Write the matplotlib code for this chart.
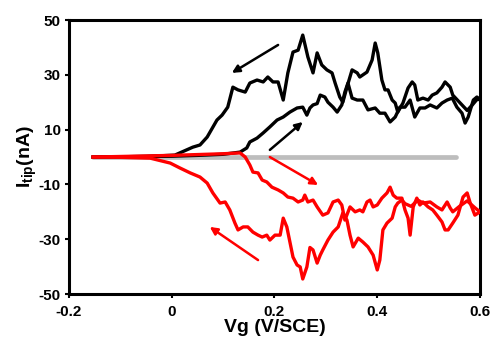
import matplotlib
matplotlib.use("Agg")
import matplotlib.pyplot as plt

plt.rcParams['font.family'] = ['Liberation Sans', 'DejaVu Sans']
plt.rcParams['mathtext.fontset'] = 'custom'
plt.rcParams['mathtext.rm'] = 'Liberation Sans:bold'
plt.rcParams['mathtext.bf'] = 'Liberation Sans:bold'
plt.rcParams['mathtext.it'] = 'Liberation Sans:bold'
plt.rcParams['axes.unicode_minus'] = False

# Black forward sweep (x increasing)
bf_x = [-0.153, -0.10, -0.05, 0.0, 0.05, 0.10, 0.133, 0.146, 0.152, 0.166, 0.178, 0.191, 0.205, 0.217, 0.230, 0.244,
        0.255, 0.263, 0.269, 0.275, 0.283, 0.289, 0.298, 0.304, 0.314, 0.322, 0.331, 0.337, 0.343, 0.351, 0.361, 0.372,
        0.382, 0.396, 0.405, 0.415, 0.425, 0.435, 0.444, 0.454, 0.464, 0.473, 0.483, 0.493, 0.503, 0.516, 0.526, 0.536,
        0.546, 0.555, 0.565, 0.571, 0.577, 0.587, 0.594, 0.600]
bf_y = [0, 0.1, 0.2, 0.3, 0.6, 1.0, 1.8, 3.3, 5.5, 6.9, 8.8, 11, 13.5, 14.6, 16.4, 17.9,
        18.2, 15.3, 17.9, 19, 19.5, 22.6, 21.9, 20, 18.2, 16.4, 19, 23.7, 27, 21.5, 20.8, 20.8,
        17.2, 17.9, 16, 16, 12.8, 14.6, 18.2, 18.2, 20.8, 14.6, 17.9, 17.9, 19, 17.9, 19.7, 20.8,
        21.5, 18.2, 16, 12.4, 14.6, 20.8, 21.9, 21]

# Black reverse sweep (listed with x increasing)
bb_x = [-0.153, -0.05, 0.006, 0.041, 0.055, 0.069, 0.088, 0.098, 0.109, 0.119, 0.129, 0.143, 0.152, 0.166, 0.178,
        0.187, 0.197, 0.207, 0.217, 0.226, 0.236, 0.246, 0.255, 0.265, 0.275, 0.283, 0.292, 0.302, 0.312, 0.318,
        0.327, 0.333, 0.341, 0.351, 0.361, 0.366, 0.380, 0.390, 0.396, 0.401, 0.409, 0.415, 0.421, 0.429, 0.435,
        0.440, 0.450, 0.460, 0.468, 0.473, 0.479, 0.489, 0.499, 0.507, 0.516, 0.526, 0.532, 0.542, 0.547, 0.555,
        0.565, 0.575, 0.585, 0.594, 0.600]
bb_y = [0, 0.2, 0.7, 3.6, 4.4, 7.3, 13.5, 15.3, 18.2, 25.5, 24.5, 23.7, 27, 28.1, 27.4,
        29.2, 27.4, 27.4, 20.8, 30.7, 38.3, 39, 44.5, 36.5, 30.7, 38, 33.6, 31.8, 30.7, 27,
        21.9, 20, 25.5, 31.8, 30.7, 29.2, 31, 35.4, 41.6, 38, 28.1, 24.5, 24.5, 20.8, 19.7,
        16.4, 19.7, 25.2, 27.4, 26.3, 20.8, 21.5, 20.8, 22.6, 23.4, 25.5, 27.4, 25.5, 22.6, 21,
        19, 17, 19, 21, 21]

# Red forward sweep (x increasing)
rf_x = [-0.153, -0.10, -0.05, 0.0, 0.05, 0.10, 0.133, 0.143, 0.152, 0.158, 0.168, 0.176, 0.185, 0.195, 0.207,
        0.217, 0.226, 0.236, 0.246, 0.255, 0.259, 0.265, 0.275, 0.283, 0.294, 0.304, 0.314, 0.324, 0.331, 0.337,
        0.347, 0.357, 0.366, 0.372, 0.380, 0.386, 0.392, 0.400, 0.409, 0.419, 0.425, 0.431, 0.438, 0.448, 0.454,
        0.460, 0.464, 0.470, 0.477, 0.483, 0.489, 0.499, 0.508, 0.516, 0.526, 0.532, 0.538, 0.547, 0.557, 0.567,
        0.575, 0.581, 0.590, 0.600]
rf_y = [0, 0.2, 0.4, 0.6, 0.9, 1.2, 1.5, 0, -2.9, -5.5, -5.8, -8.4, -9.1, -11, -12,
        -13.1, -14.6, -15, -16.4, -15.7, -13.9, -16.4, -15.7, -18.2, -21.2, -20.4, -16.4, -15.7, -17.5, -23,
        -18.2, -20, -19.3, -20, -16.4, -15.7, -18.2, -17.5, -15, -13.1, -11, -13.9, -15, -15, -19.3,
        -22.3, -28.5, -18.2, -15, -17.5, -16.4, -18.2, -19.3, -21.2, -23.7, -26.6, -26.6, -24.1, -21.2, -14.6,
        -13.1, -16.8, -21.2, -20]

# Red reverse sweep (listed with x increasing)
rb_x = [-0.153, -0.10, -0.042, -0.003, 0.016, 0.036, 0.055, 0.069, 0.080, 0.094, 0.104, 0.113, 0.123, 0.129,
        0.139, 0.148, 0.158, 0.168, 0.176, 0.185, 0.191, 0.201, 0.211, 0.217, 0.224, 0.230, 0.236, 0.244, 0.250,
        0.255, 0.263, 0.269, 0.275, 0.283, 0.289, 0.294, 0.304, 0.314, 0.324, 0.333, 0.341, 0.347, 0.353, 0.363,
        0.372, 0.382, 0.392, 0.400, 0.405, 0.411, 0.419, 0.429, 0.435, 0.440, 0.448, 0.454, 0.466, 0.479, 0.489,
        0.503, 0.516, 0.526, 0.536, 0.542, 0.547, 0.560, 0.575, 0.590, 0.600]
rb_y = [0, -0.1, -0.4, -2.2, -4, -5.8, -7.3, -9.5, -13.1, -16.8, -16.4, -19.3, -24.1, -26.6,
        -25.5, -25.5, -27.4, -28.5, -29.2, -28.5, -30.3, -28.5, -28.5, -22.3, -25.5, -31, -36.5, -39.4, -40.1,
        -44.5, -40.1, -33, -33.9, -38.7, -35.8, -33.9, -30.3, -27.4, -25.5, -20.4, -23, -28.5, -32.8, -29.6,
        -31, -32.8, -35.8, -41.2, -37.6, -26.6, -24.1, -22.3, -18.2, -16.8, -15.7, -17, -18, -15.7, -16.8,
        -16.4, -18.2, -19.3, -16.4, -18.6, -20, -18, -16, -18.5, -20]

# Gray reference line
g_x = [-0.153, 0.553]
g_y = [0, 0]

# Arrows: (tail, head, colour)
arrows = [((0.207, 40.9), (0.117, 30.7), 'black'),
          ((0.191, 2.6), (0.255, 12.8), 'black'),
          ((0.191, 0.0), (0.285, -10.2), 'red'),
          ((0.168, -37.6), (0.074, -25.5), 'red')]

x_ticks = [-0.2, 0, 0.2, 0.4, 0.6]
x_ticklabels = ['-0.2', '0', '0.2', '0.4', '0.6']
y_ticks = [-50, -30, -10, 10, 30, 50]

fig = plt.figure(figsize=(4.91, 3.48), dpi=100)
ax = fig.add_axes([0.1405, 0.155, 0.8371, 0.7875])

ax.plot(g_x, g_y, color='#bdbdbd', lw=3.4, solid_capstyle='round', zorder=1)
ax.plot(bf_x, bf_y, color='black', lw=2.4, zorder=2)
ax.plot(bb_x, bb_y, color='black', lw=2.4, zorder=2)
ax.plot(rf_x, rf_y, color='#ff0000', lw=2.4, zorder=3)
ax.plot(rb_x, rb_y, color='#ff0000', lw=2.4, zorder=3)

for tail, head, c in arrows:
    ax.annotate('', xy=head, xytext=tail,
                arrowprops=dict(arrowstyle='-|>', color=c, lw=1.8, mutation_scale=11,
                                shrinkA=0, shrinkB=0))

ax.set_xlim(-0.2, 0.6)
ax.set_ylim(-50, 50)
ax.set_xticks(x_ticks)
ax.set_xticklabels(x_ticklabels)
ax.set_yticks(y_ticks)
for s in ax.spines.values():
    s.set_linewidth(2.2)
ax.tick_params(direction='out', length=3, width=1.5, labelsize=11)
ax.tick_params(axis='x', pad=5)
ax.tick_params(axis='y', pad=3)
for lab in ax.get_xticklabels() + ax.get_yticklabels():
    lab.set_fontweight('bold')

ax.set_xlabel('Vg (V/SCE)', fontsize=14, fontweight='bold', labelpad=0)
ax.set_ylabel(r'I$_{\mathrm{tip}}$(nA)', fontsize=14, fontweight='bold', labelpad=0)

fig.savefig('out.png', dpi=100)
